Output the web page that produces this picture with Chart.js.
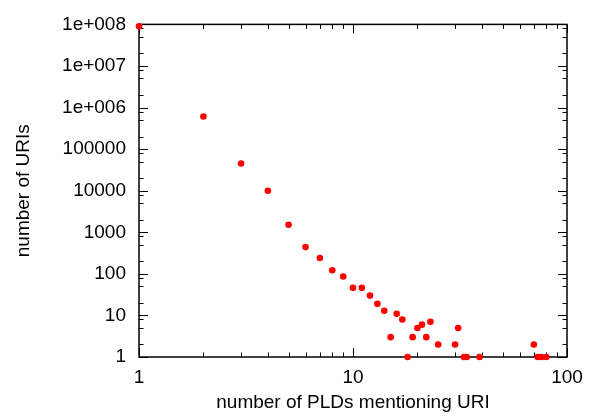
<!DOCTYPE html>
<html>
<head>
<meta charset="utf-8">
<script src="https://cdn.jsdelivr.net/npm/chart.js@4"></script>
<style>
  html, body { margin: 0; padding: 0; background: #fff; }
</style>
</head>
<body>
<canvas id="chart" width="595" height="417"></canvas>
<script>
// number of PLDs mentioning a URI (x) vs. number of URIs (y)
const pldCounts = [1, 2, 3, 4, 5, 6, 7, 8, 9, 10, 11, 12, 13, 14, 15, 16, 17, 18, 19, 20, 21, 22, 23, 25, 30, 31, 33, 34, 39, 70, 73, 76, 80];
const uriCounts = [90000000, 610000, 45000, 10000, 1520, 440, 241, 122, 86, 46, 46, 30, 19, 13, 3, 11, 8, 1, 3, 5, 6, 3, 7, 2, 2, 5, 1, 1, 1, 2, 1, 1, 1];

const xMajorTicks = [1, 10, 100];
const yMajorTicks = [1, 10, 100, 1000, 10000, 100000, 1000000, 10000000, 100000000];
const xMinorSteps = [2, 3, 4, 5, 6, 7, 8, 9];
const yMinorSteps = [2, 5, 8];

const FONT = { family: 'Liberation Sans, Arial, sans-serif', size: 19 };

function yLabel(v) {
  if (v >= 1000000) {
    return '1e+' + String(Math.round(Math.log10(v))).padStart(3, '0');
  }
  return String(v);
}

// gnuplot style box with inward ticks on all four sides
const framePlugin = {
  id: 'frame',
  beforeDatasetsDraw(chart) {
    const { ctx, chartArea: a, scales: { x, y } } = chart;
    ctx.save();
    ctx.strokeStyle = '#000';
    ctx.lineWidth = 1;

    const xTick = (v, len) => {
      const px = Math.round(x.getPixelForValue(v)) + 0.5;
      ctx.beginPath();
      ctx.moveTo(px, a.bottom); ctx.lineTo(px, a.bottom - len);
      ctx.moveTo(px, a.top); ctx.lineTo(px, a.top + len);
      ctx.stroke();
    };
    const yTick = (v, len) => {
      const py = Math.round(y.getPixelForValue(v)) + 0.5;
      ctx.beginPath();
      ctx.moveTo(a.left, py); ctx.lineTo(a.left + len, py);
      ctx.moveTo(a.right, py); ctx.lineTo(a.right - len, py);
      ctx.stroke();
    };

    xMajorTicks.forEach((m, i) => {
      xTick(m, 9);
      if (i < xMajorTicks.length - 1) xMinorSteps.forEach(s => xTick(m * s, 4.5));
    });
    yMajorTicks.forEach((m, i) => {
      yTick(m, 9);
      if (i < yMajorTicks.length - 1) yMinorSteps.forEach(s => yTick(m * s, 4.5));
    });

    ctx.lineWidth = 1.5;
    ctx.strokeRect(a.left, a.top, a.right - a.left, a.bottom - a.top);
    ctx.restore();
  }
};

new Chart(document.getElementById('chart'), {
  type: 'scatter',
  data: {
    datasets: [{
      data: pldCounts.map((v, i) => ({ x: v, y: uriCounts[i] })),
      backgroundColor: '#ff0000',
      borderColor: '#ff0000',
      pointRadius: 3.3,
      borderWidth: 0,
      clip: false
    }]
  },
  options: {
    responsive: false,
    animation: false,
    devicePixelRatio: 1,
    layout: { padding: { top: 16, right: 28, bottom: 0, left: 0 } },
    plugins: { legend: { display: false }, tooltip: { enabled: false } },
    scales: {
      x: {
        type: 'logarithmic',
        min: 1,
        max: 100,
        afterBuildTicks: (s) => { s.ticks = xMajorTicks.map(v => ({ value: v })); },
        afterFit: (s) => { s.height = 60; },
        grid: { display: false, drawTicks: false },
        border: { display: false },
        ticks: { color: '#000', font: FONT, padding: 9, maxRotation: 0, callback: (v) => String(v) },
        title: { display: true, text: 'number of PLDs mentioning URI', color: '#000', font: FONT, padding: { top: 0, bottom: 3 } }
      },
      y: {
        type: 'logarithmic',
        min: 1,
        max: 100000000,
        afterBuildTicks: (s) => { s.ticks = yMajorTicks.map(v => ({ value: v })); },
        afterFit: (s) => { s.width = 139; },
        grid: { display: false, drawTicks: false },
        border: { display: false },
        ticks: { color: '#000', font: FONT, padding: 13, callback: yLabel },
        title: { display: true, text: 'number of URIs', color: '#000', font: FONT, padding: { top: 12, bottom: 0 } }
      }
    }
  },
  plugins: [framePlugin]
});
</script>
</body>
</html>
